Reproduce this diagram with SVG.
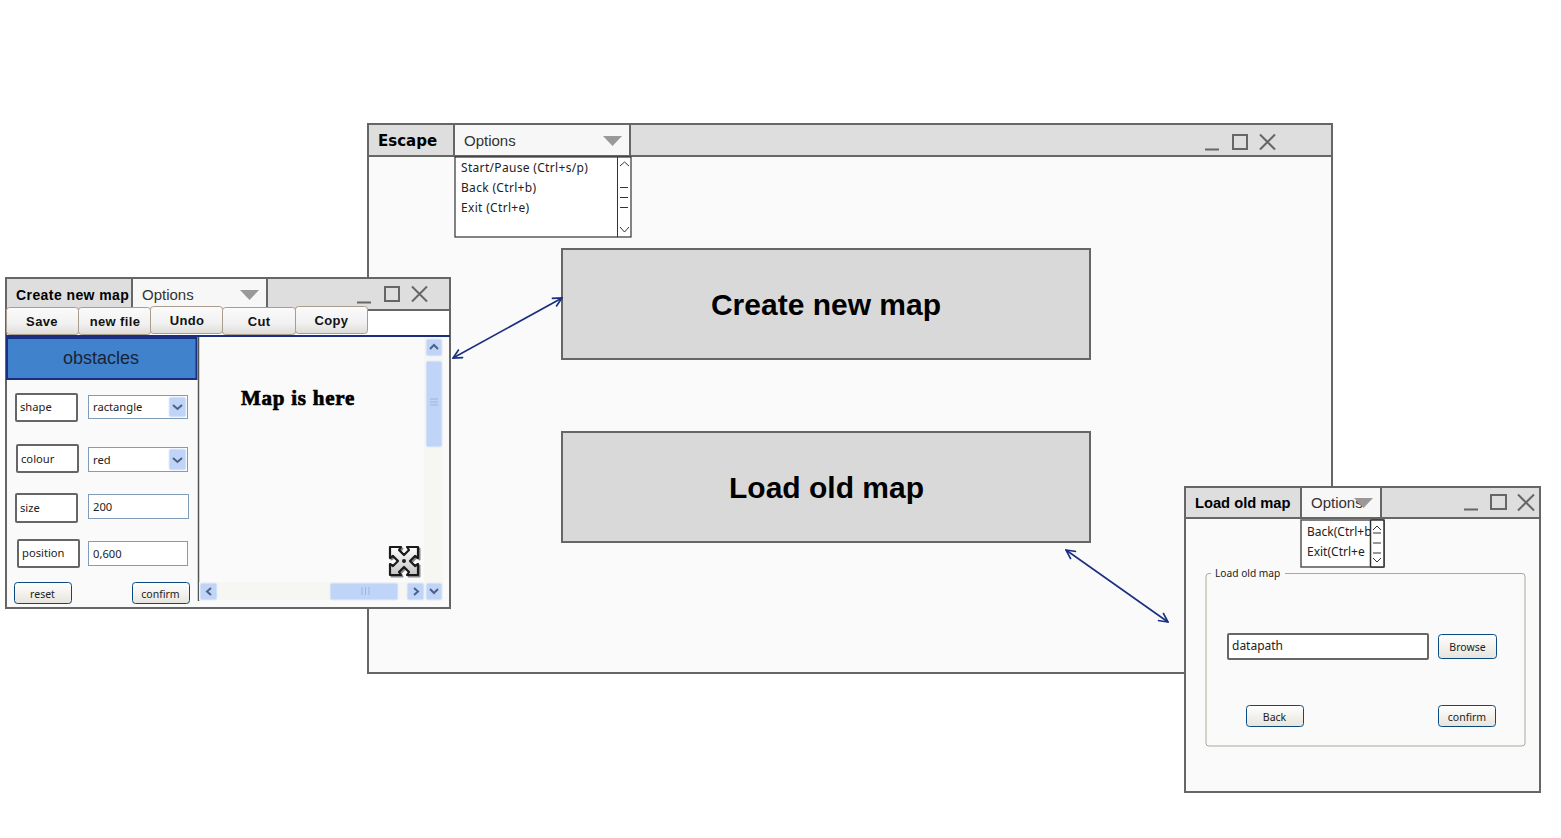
<svg xmlns="http://www.w3.org/2000/svg" width="1561" height="838" viewBox="0 0 1561 838">
<style>
.win{fill:#fafafa;stroke:#666;stroke-width:2}
.bar{fill:#dedede;stroke:#666;stroke-width:2}
.opt{fill:#f7f7f7;stroke:#666;stroke-width:2}
.tri{fill:#999}
.ctl{fill:none;stroke:#666;stroke-width:2}
.t{font-family:"Liberation Sans",Arial,sans-serif;fill:#000}
.b{font-weight:bold}
.optt{font-family:"Liberation Sans",Arial,sans-serif;font-size:15px;fill:#333}
.h{font-family:"Noto Sans",sans-serif;font-size:12px;fill:#222}
.m{letter-spacing:.32px}
.f{font-size:11.2px}
.big{fill:#d9d9d9;stroke:#666;stroke-width:2}
.bigt{font-family:"Liberation Sans",Arial,sans-serif;font-size:30px;font-weight:bold;text-anchor:middle;fill:#000}
.tb{fill:url(#tbg);stroke:#a89c8c;stroke-width:1}
.tbt{font-family:"Liberation Sans",Arial,sans-serif;font-size:13px;font-weight:bold;text-anchor:middle;fill:#111;letter-spacing:.35px}
.lab{fill:#fff;stroke:#666;stroke-width:2}
.field{fill:#fff;stroke:#7f9db9;stroke-width:1}
.btn{fill:url(#bbg);stroke:#0a4a80;stroke-width:1}
.btnt{font-family:"Noto Sans",sans-serif;font-size:10.5px;text-anchor:middle;fill:#222}
.sb{fill:#c0d4f8;stroke:#e4ecfb;stroke-width:1}
.sbi{fill:none;stroke:#4d6185;stroke-width:2}
.menu{fill:#fff;stroke:#333;stroke-width:1.2}
.thin{fill:none;stroke:#333;stroke-width:1}
.conn{fill:none;stroke:#1a2f80;stroke-width:1.6;marker-start:url(#ah);marker-end:url(#ah)}
</style>
<defs>
<linearGradient id="tbg" x1="0" y1="0" x2="0" y2="1"><stop offset="0" stop-color="#fbfbfb"/><stop offset=".6" stop-color="#f1f1f1"/><stop offset="1" stop-color="#dedcd6"/></linearGradient>
<linearGradient id="bbg" x1="0" y1="0" x2="0" y2="1"><stop offset="0" stop-color="#fff"/><stop offset="1" stop-color="#e6e4dc"/></linearGradient>
<linearGradient id="ibg" x1="0" y1="0" x2="0" y2="1"><stop offset="0" stop-color="#fff"/><stop offset="1" stop-color="#c4c4c4"/></linearGradient>
<marker id="ah" viewBox="0 0 12 12" refX="11" refY="6" markerWidth="11" markerHeight="11" markerUnits="userSpaceOnUse" orient="auto-start-reverse"><path d="M1 1L11 6L1 11" fill="none" stroke="#1a2f80" stroke-width="1.8"/></marker>
</defs>
<rect width="1561" height="838" fill="#fff"/>

<g id="main-window">
<rect class="win" x="368" y="124" width="964" height="549"/>
<rect class="bar" x="368" y="124" width="964" height="32"/>
<text class="t b" x="378" y="146" style="font-family:'DejaVu Sans',sans-serif;font-size:15px">Escape</text>
<rect class="opt" x="454" y="124" width="176" height="32"/>
<text class="optt" x="464" y="146">Options</text>
<path class="tri" d="M603 136h19l-9.500 10z"/>
<path class="ctl" d="M1205 149.500h14M1233 135h14v14h-14zM1260 134.500l15 15M1275 134.500l-15 15"/>
</g>
<g id="main-menu">
<rect class="menu" x="455" y="157" width="176" height="80"/>
<path class="thin" d="M617.500 157v80M620 166l4.500-4 4.500 4M620 187.500h8M620 197.500h8M620 207.500h8M620 227l4.500 5 4.500-5"/>
<text class="h m" x="461" y="172">Start/Pause (Ctrl+s/p)</text>
<text class="h m" x="461" y="192">Back (Ctrl+b)</text>
<text class="h m" x="461" y="212">Exit (Ctrl+e)</text>
</g>
<g id="create-btn">
<rect class="big" x="562" y="249" width="528" height="110"/>
<text class="bigt" x="826" y="315">Create new map</text>
</g>
<g id="load-btn">
<rect class="big" x="562" y="432" width="528" height="110"/>
<text class="bigt" x="826.500" y="498">Load old map</text>
</g>

<g id="create-window">
<rect class="win" x="6" y="278" width="444" height="330"/>
<rect class="bar" x="6" y="278" width="444" height="32"/>
<rect x="7" y="311" width="442" height="24" fill="#fff"/>
<text class="t b" x="16" y="300" font-size="14" letter-spacing=".42">Create new map</text>
<rect class="opt" x="132" y="278" width="135" height="32"/>
<text class="optt" x="142" y="300">Options</text>
<path class="tri" d="M240 290h19l-9.500 10z"/>
<path class="ctl" d="M357 302.500h14M385 287h14v14h-14zM412 286.500l15 15M427 286.500l-15 15"/>
<rect class="tb" x="6.500" y="307.500" width="72" height="27" rx="3"/>
<text class="tbt" x="42" y="326">Save</text>
<rect class="tb" x="78.500" y="307.500" width="72" height="27" rx="3"/>
<text class="tbt" x="115" y="326">new file</text>
<rect class="tb" x="150.500" y="306.500" width="72" height="27" rx="3"/>
<text class="tbt" x="187" y="325">Undo</text>
<rect class="tb" x="222.500" y="307.500" width="73" height="27" rx="3"/>
<text class="tbt" x="259" y="326">Cut</text>
<rect class="tb" x="295.500" y="306.500" width="72" height="27" rx="3"/>
<text class="tbt" x="331.500" y="325">Copy</text>
<path d="M6 336h444" stroke="#1a2f80" stroke-width="2" fill="none"/>
<rect x="7" y="338" width="189.500" height="41" fill="#4083cc" stroke="#1a2f80" stroke-width="2"/>
<text x="101" y="364" text-anchor="middle" font-family="Liberation Sans" font-size="18" fill="#1a2438">obstacles</text>
<path d="M198.500 337v264" stroke="#555" stroke-width="1.500" fill="none"/>

<rect class="lab" x="16" y="394" width="61" height="27" rx="1"/><text class="h f" x="20" y="411">shape</text>
<rect class="field" x="88.500" y="395.500" width="99" height="23"/><text class="h f" x="93" y="411" font-size="11">ractangle</text>
<rect class="sb" x="169" y="397" width="17" height="20" rx="2"/><path class="sbi" d="M173 405l4.500 4 4.500-4"/>
<rect class="lab" x="17" y="445" width="61" height="27" rx="1"/><text class="h f" x="21" y="463">colour</text>
<rect class="field" x="88.500" y="447.500" width="99" height="24"/><text class="h f" x="93" y="464">red</text>
<rect class="sb" x="169" y="449" width="17" height="21" rx="2"/><path class="sbi" d="M173 458l4.500 4 4.500-4"/>
<rect class="lab" x="16" y="494" width="61" height="28" rx="1"/><text class="h f" x="20" y="512">size</text>
<rect class="field" x="88.500" y="494.500" width="100" height="24"/><text class="h f" x="93" y="511">200</text>
<rect class="lab" x="18" y="540" width="61" height="27" rx="1"/><text class="h f" x="22" y="557">position</text>
<rect class="field" x="88.500" y="541.500" width="99" height="24"/><text class="h f" x="93" y="558">0,600</text>
<rect class="btn" x="14.500" y="582.500" width="57" height="21" rx="3"/><text class="btnt" x="42.500" y="598">reset</text>
<rect class="btn" x="132.500" y="582.500" width="57" height="21" rx="3"/><text class="btnt" x="160.500" y="598">confirm</text>

<text x="241" y="405" font-family="Liberation Serif" font-size="21" font-weight="bold" fill="#000" stroke="#000" stroke-width=".7" letter-spacing=".75">Map is here</text>
<rect x="424" y="337" width="19" height="264" fill="#f6f6f2"/>
<rect x="199" y="582" width="243" height="18" fill="#f6f6f2"/>
<rect class="sb" x="426" y="339" width="16" height="17" rx="2"/><path class="sbi" d="M430 349l4-4 4 4"/>
<rect class="sb" x="426" y="361" width="16" height="86" rx="2"/><path d="M430 399h8M430 402h8M430 405h8" stroke="#9db4dc" fill="none"/>
<rect class="sb" x="426" y="583" width="16" height="17" rx="2"/><path class="sbi" d="M430 589l4 4 4-4"/>
<rect class="sb" x="407" y="583" width="17" height="17" rx="2"/><path class="sbi" d="M414 588l4 3.500-4 3.500"/>
<rect class="sb" x="330" y="583" width="68" height="17" rx="2"/><path d="M362 587v8M365.500 587v8M369 587v8" stroke="#9db4dc" fill="none"/>
<rect class="sb" x="200" y="583" width="17" height="17" rx="2"/><path class="sbi" d="M211 588l-4 3.500 4 3.500"/>
<g id="move-icon" stroke-linejoin="round">
<path transform="translate(1.500 1.500)" d="M390 547h11l-2 3 5 5 5-5-2-3h11v11l-3-2-5 5 5 5 3-2v11h-11l2-3-5-5-5 5 2 3h-11v-11l3 2 5-5-5-5-3 2z" fill="#888" stroke="#888" stroke-width="2"/>
<path d="M390 547h11l-2 3 5 5 5-5-2-3h11v11l-3-2-5 5 5 5 3-2v11h-11l2-3-5-5-5 5 2 3h-11v-11l3 2 5-5-5-5-3 2z" fill="url(#ibg)" stroke="#1a1a1a" stroke-width="2.200"/>
<circle cx="404" cy="561" r="2" fill="#222"/>
</g>
</g>

<g id="load-window">
<rect class="win" x="1185" y="487" width="355" height="305"/>
<rect class="bar" x="1185" y="487" width="355" height="31"/>
<text class="t b" x="1195" y="508" font-size="14.700">Load old map</text>
<rect class="opt" x="1301" y="487" width="80" height="31"/>
<text class="optt" x="1311" y="508">Options</text>
<path class="tri" d="M1354 498h19l-9.500 10z"/>
<path class="ctl" d="M1464 509.500h14M1491 495h15v14h-15zM1518 494.500l16 16M1534 494.500l-16 16"/>
<rect x="1301" y="520" width="83" height="47" fill="#fff" stroke="#555" stroke-width="1.500"/>
<text class="h" x="1307" y="536">Back(Ctrl+b</text>
<text class="h" x="1307" y="556">Exit(Ctrl+e</text>
<rect x="1370.500" y="520" width="13.500" height="47" rx="1" fill="#fff" stroke="#333" stroke-width="1.500"/>
<path class="thin" d="M1373 530l4-4 4 4M1373 533h8M1373 543h8M1373 553h8M1373 558l4 4 4-4"/>
<path d="M1211 573.500h-2a3 3 0 0 0-3 3V743a3 3 0 0 0 3 3h313a3 3 0 0 0 3-3V576.500a3 3 0 0 0-3-3H1285" fill="none" stroke="#aaa89a" stroke-width="1"/>
<text class="h" x="1215" y="577" style="font-size:10.200px">Load old map</text>
<rect class="lab" x="1228" y="634" width="200" height="25" rx="1"/>
<text class="h" x="1232" y="650">datapath</text>
<rect class="btn" x="1438.500" y="634.500" width="58" height="24" rx="3"/><text class="btnt" x="1467.500" y="651">Browse</text>
<rect class="btn" x="1246.500" y="705.500" width="57" height="21" rx="3"/><text class="btnt" x="1274.500" y="721">Back</text>
<rect class="btn" x="1438.500" y="705.500" width="57" height="21" rx="3"/><text class="btnt" x="1467" y="721">confirm</text>
</g>

<g id="connectors">
<path class="conn" d="M453 358L562 298"/>
<path class="conn" d="M1066 550L1168 622"/>
</g>
</svg>
